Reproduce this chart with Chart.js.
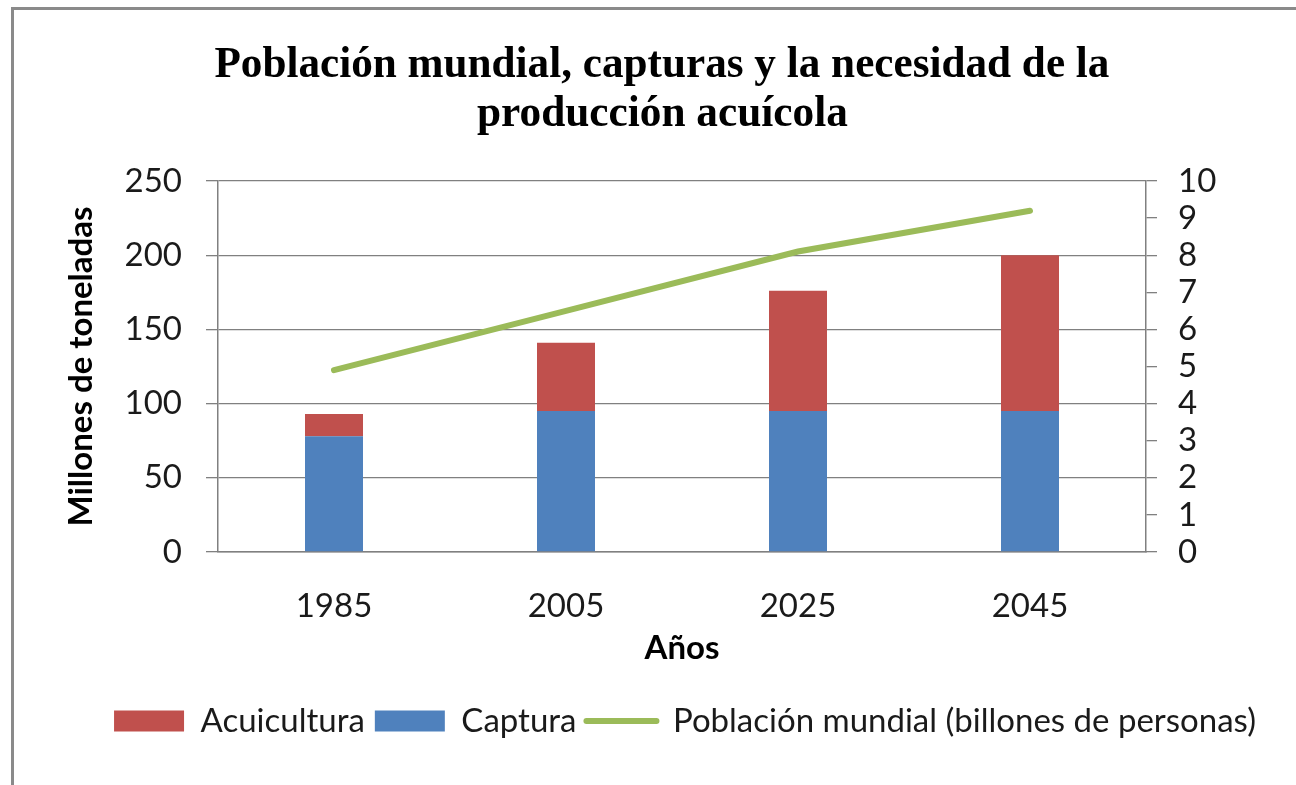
<!DOCTYPE html>
<html lang="es">
<head>
<meta charset="utf-8">
<title>Población mundial, capturas y la necesidad de la producción acuícola</title>
<script src="https://cdn.jsdelivr.net/npm/chart.js@4/dist/chart.umd.min.js"></script>
<style>
  html, body { margin: 0; padding: 0; background: #fff; overflow: hidden; }
  body { width: 1296px; height: 785px; position: relative; }
  .frame {
    position: absolute; left: 11px; top: 7px; width: 2000px; height: 2000px;
    border-left: 3px solid #8a8a8a; border-top: 3px solid #8a8a8a;
  }
  .chart-title {
    position: absolute; left: 0; top: 38px; width: 1324px;
    text-align: center; font-family: "Liberation Serif", "Times New Roman", serif;
    font-weight: bold; font-size: 44px; line-height: 49px; color: #000;
  }
  .chart-title span { display: inline-block; white-space: nowrap; transform-origin: center; }
  #chartBox { position: absolute; left: 0; top: 0; }
</style>
</head>
<body>
<div class="frame"></div>
<div id="chartBox"><canvas id="acuiChart" width="1370" height="785"></canvas></div>
<div class="chart-title">
  <div><span data-w="895">Población mundial, capturas y la necesidad de la</span></div>
  <div><span data-w="371">producción acuícola</span></div>
</div>
<script>
const YEARS        = ["1985", "2005", "2025", "2045"];
const CAPTURA      = [78, 95, 95, 95];
const ACUICULTURA  = [15, 46, 81, 105];
const POBLACION    = [4.9, 6.5, 8.1, 9.2];
const LEFT_TICKS   = [0, 50, 100, 150, 200, 250];
const RIGHT_TICKS  = [0, 1, 2, 3, 4, 5, 6, 7, 8, 9, 10];

const BLUE  = "#4f81bd";
const RED   = "#c0504d";
const GREEN = "#9bbb59";
const GRID  = "#808080";
const TEXT  = "#1a1a1a";
const SANS  = 'Lato, "Open Sans", sans-serif';

/* ── Título: ancho ajustado ─────────────────────────── */
document.querySelectorAll(".chart-title span").forEach(span => {
  const target = Number(span.getAttribute("data-w"));
  const natural = span.getBoundingClientRect().width;
  if (natural > 0) span.style.transform = `scaleX(${target / natural})`;
});

/* ── Gráfica ────────────────────────────────────────── */
const tickFont  = { family: SANS, size: 33 };
const titleFont = { family: SANS, size: 33, weight: "bold" };
const legendRank = { 2: 0, 1: 1, 0: 2 };

const ctx = document.getElementById("acuiChart").getContext("2d");

new Chart(ctx, {
  data: {
    labels: YEARS,
    datasets: [
      {
        type: "line",
        label: "Población mundial (billones de personas)",
        data: POBLACION,
        yAxisID: "y2",
        borderColor: GREEN,
        backgroundColor: GREEN,
        borderWidth: 6,
        borderCapStyle: "round",
        tension: 0,
        pointRadius: 0,
        pointHoverRadius: 0,
      },
      {
        type: "bar",
        label: "Captura",
        data: CAPTURA,
        yAxisID: "y",
        backgroundColor: BLUE,
        borderWidth: 0,
        categoryPercentage: 1,
        barPercentage: 0.25,
      },
      {
        type: "bar",
        label: "Acuicultura",
        data: ACUICULTURA,
        yAxisID: "y",
        backgroundColor: RED,
        borderWidth: 0,
        categoryPercentage: 1,
        barPercentage: 0.25,
      }
    ]
  },
  options: {
    responsive: false,
    animation: false,
    layout: { padding: { left: 0, right: 0, top: 181, bottom: 37.5 } },
    plugins: {
      title: { display: false },
      tooltip: { enabled: false },
      legend: {
        position: "bottom",
        labels: {
          usePointStyle: true,
          pointStyleWidth: 70,
          boxHeight: 21,
          padding: 10,
          color: TEXT,
          font: tickFont,
          sort: (a, b) => legendRank[a.datasetIndex] - legendRank[b.datasetIndex],
          generateLabels: chart =>
            Chart.defaults.plugins.legend.labels.generateLabels(chart).map(item => {
              if (item.datasetIndex === 0) {
                item.pointStyle  = "line";
                item.strokeStyle = GREEN;
                item.lineWidth   = 6;
                item.lineCap     = "round";
              } else {
                item.pointStyle = "rect";
                item.lineWidth  = 0;
              }
              return item;
            }),
        }
      }
    },
    scales: {
      x: {
        stacked: true,
        grid: { display: false, drawTicks: false },
        border: { display: true, color: GRID, width: 1.5 },
        ticks: { color: TEXT, font: tickFont, padding: 35 },
        title: { display: true, text: "Años", color: "#000", font: titleFont, padding: { top: 0, bottom: 26.7 } },
        afterFit: s => { s.height = 142.5; },
      },
      y: {
        position: "left",
        stacked: true,
        min: 0,
        max: 250,
        afterBuildTicks: s => { s.ticks = LEFT_TICKS.map(v => ({ value: v })); },
        afterFit: s => { s.width = 218; },
        grid: { color: GRID, lineWidth: 1.3, tickLength: 12 },
        border: { display: true, color: GRID, width: 1.5 },
        ticks: { color: TEXT, font: tickFont, padding: 24, autoSkip: false },
        title: { display: true, text: "Millones de toneladas", color: "#000", font: titleFont, padding: { top: 62, bottom: 0 } },
      },
      y2: {
        position: "right",
        min: 0,
        max: 10,
        afterBuildTicks: s => { s.ticks = RIGHT_TICKS.map(v => ({ value: v })); },
        afterFit: s => { s.width = 224; },
        grid: { drawOnChartArea: false, color: GRID, lineWidth: 1.3, tickLength: 11 },
        border: { display: true, color: GRID, width: 1.5 },
        ticks: { color: TEXT, font: tickFont, padding: 21, autoSkip: false },
      }
    }
  }
});
</script>
</body>
</html>
